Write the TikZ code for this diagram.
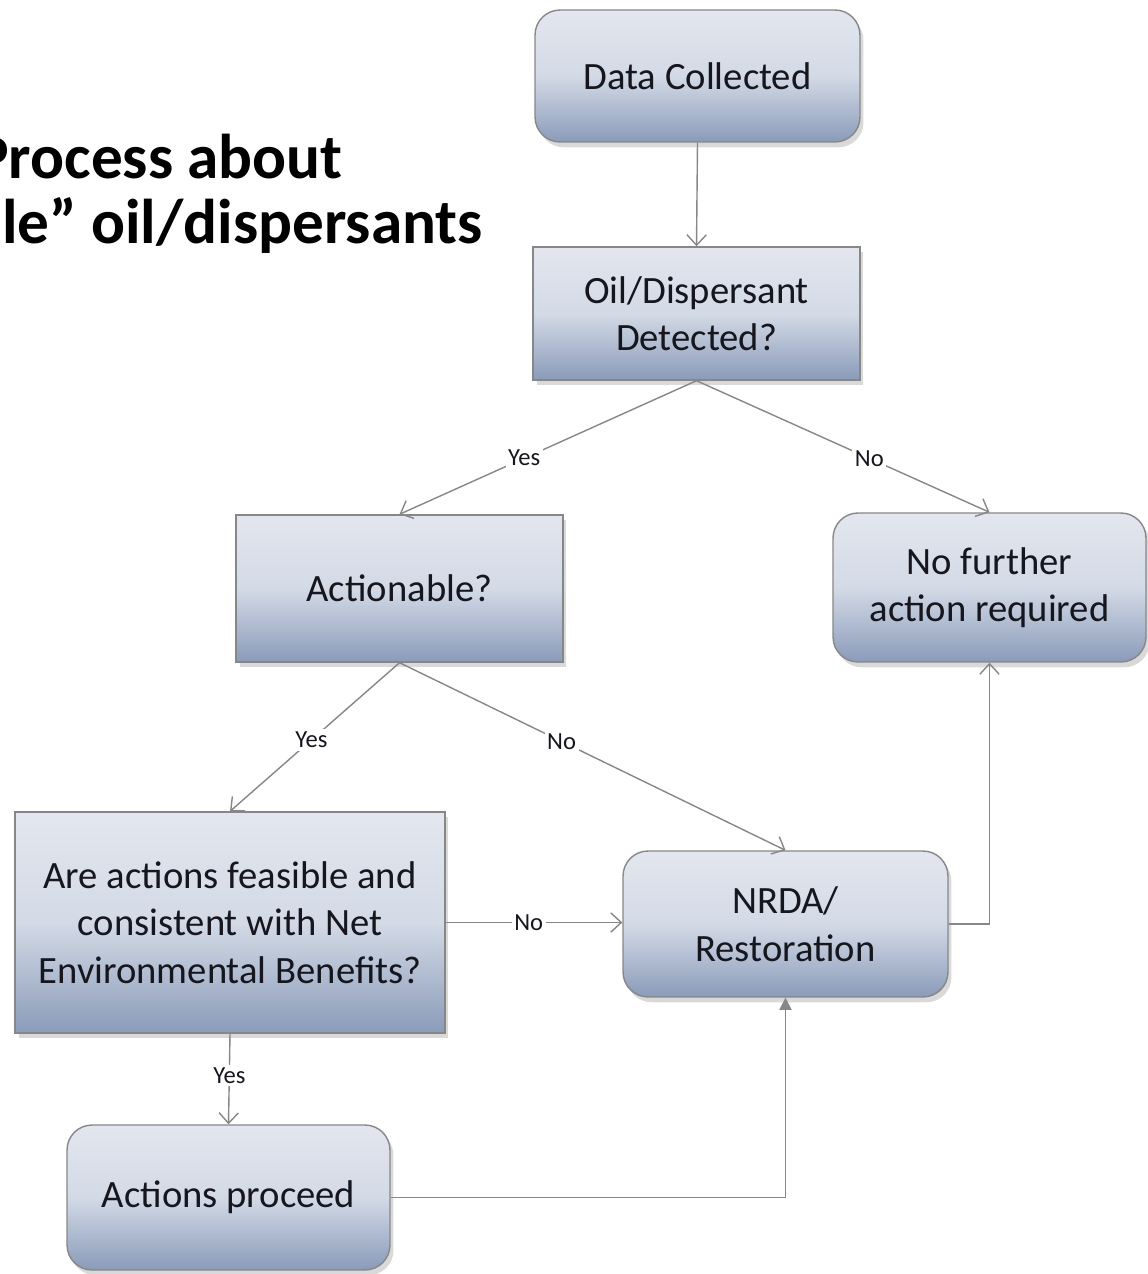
\documentclass[tikz,border=0pt]{standalone}
\usepackage{fontspec}
\setmainfont{Carlito}
\usetikzlibrary{positioning,calc,shadows,arrows.meta}
\definecolor{boxtop}{HTML}{E3E6EE}
\definecolor{boxmid}{HTML}{D3DAE6}
\definecolor{boxbot}{HTML}{8A9BB9}
\definecolor{linegray}{HTML}{878787}
\definecolor{txt}{HTML}{16161F}
\tikzset{
  box/.style={draw=linegray, line width=0.8pt, top color=boxtop, bottom color=boxbot, middle color=boxmid,
    drop shadow={opacity=0.3, shadow xshift=2pt, shadow yshift=-3pt},
    text=txt, align=center, inner sep=0pt, font=\fontsize{22}{27}\selectfont},
  rbox/.style={box, rounded corners=0.5cm},
  flow/.style={draw=linegray, line width=0.8pt, -{Straight Barb[length=6pt,width=11pt]}},
  lbl/.style={fill=white, inner sep=1.5pt, text=txt, font=\fontsize{14}{14}\selectfont},
  ttl/.style={anchor=base east, font=\fontsize{36}{42}\selectfont\bfseries}
}

\begin{document}
\begin{tikzpicture}[x=0.02cm, y=-0.02cm]
    \useasboundingbox (0,0) rectangle (1147,1274);

    % Title (cut at the left edge)
    \node[ttl] (title1) at (349,178) {Process about};
    \node[ttl] (title2) at (489,243) {le” oil/dispersants};

    % Boxes
    \node[rbox, minimum width=6.5cm, minimum height=2.64cm] (dc) at (697.5,76) {Data Collected};
    \node[box, minimum width=6.54cm, minimum height=2.66cm] (od) at (696.5,313.5) {Oil/Dispersant\\Detected?};
    \node[box, minimum width=6.54cm, minimum height=2.94cm] (act) at (399.5,588.5) {Actionable?};
    \node[rbox, minimum width=6.26cm, minimum height=2.98cm] (nfa) at (989.5,587.5) {No further\\action required};
    \node[box, minimum width=8.6cm, minimum height=4.42cm] (fea) at (230,922.5) {Are actions feasible and\\consistent with Net\\Environmental Benefits?};
    \node[rbox, minimum width=6.5cm, minimum height=2.92cm] (nrda) at (785.5,924) {NRDA/\\Restoration};
    \node[rbox, minimum width=6.46cm, minimum height=2.9cm] (ap) at (228.5,1197.5) {Actions proceed};

    % Connectors
    \draw[flow] (dc.south) -- (od.north);
    \draw[flow] (od.south) -- node[lbl, pos=0.58] (y1) {Yes} (act.north);
    \draw[flow] (od.south) -- node[lbl, pos=0.59] (n1) {No} (nfa.north);
    \draw[flow] (act.south) -- node[lbl, pos=0.52] (y2) {Yes} (fea.north);
    \draw[flow] (act.south) -- node[lbl, pos=0.42] (n2) {No} (nrda.north);
    \draw[flow] (fea.east) -- node[lbl, pos=0.47] (n3) {No} (fea.east -| nrda.west);
    \draw[flow] (fea.south) -- node[lbl, pos=0.46] (y3) {Yes} (ap.north);
    \draw[draw=linegray, line width=0.8pt, -{Triangle[length=7pt,width=7pt]}] (ap.east) -| (nrda.south);
    \draw[flow] (nrda.east) -| (nfa.south);
\end{tikzpicture}
\end{document}
